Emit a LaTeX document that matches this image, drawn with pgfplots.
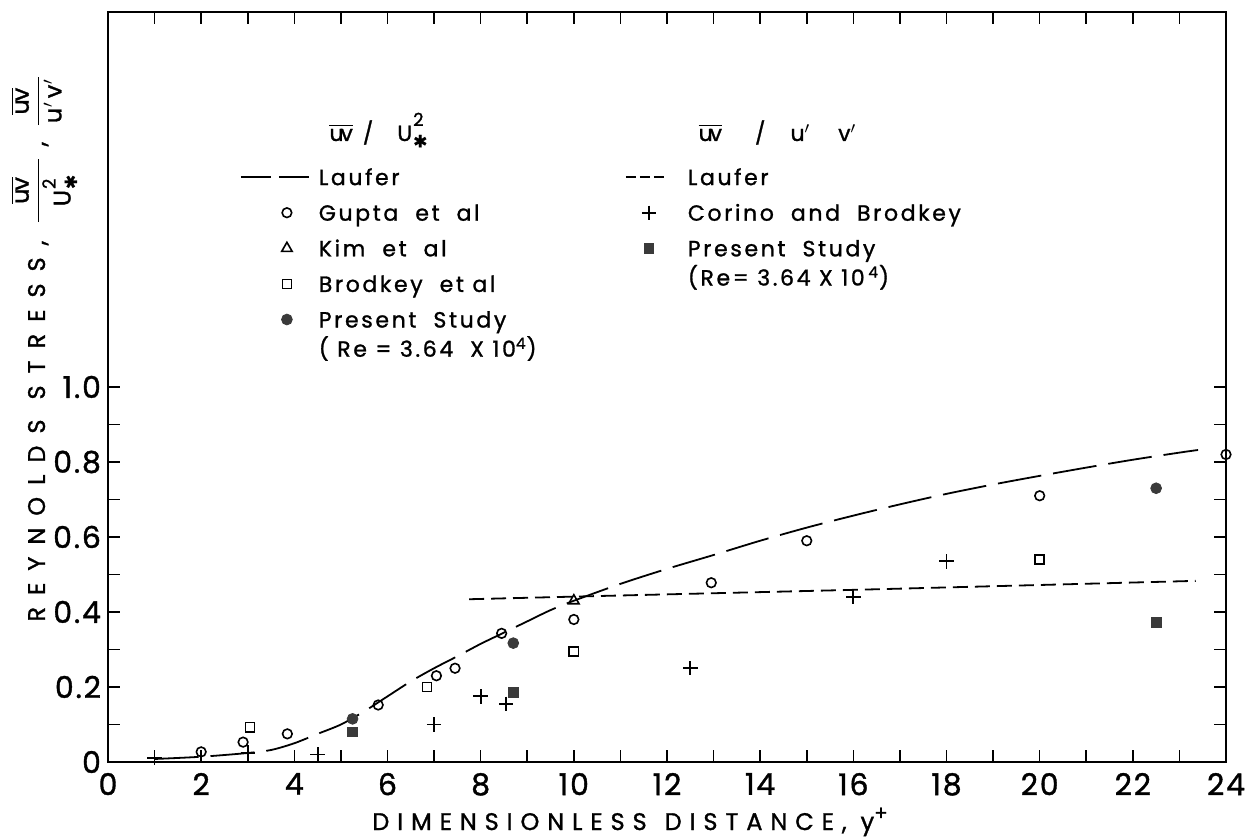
\documentclass[border=0pt]{standalone}
\usepackage{amsmath}
\usepackage{fontspec}
\setmainfont{Poppins}[FakeBold=1.2]
\newfontfamily\lettering{Poppins}[LetterSpace=12, FakeBold=1.2]
\newfontfamily\wideletter{Poppins}[LetterSpace=33, FakeBold=1.2]
\newfontfamily\yletter{Poppins}[LetterSpace=50, FakeBold=1.2]
\newfontfamily\tickfont{Poppins}[LetterSpace=6, FakeBold=1.2]
\newfontfamily\symb{DejaVu Sans}[FakeBold=0.6]
\usepackage{pgfplots}
\pgfplotsset{compat=1.18}

\definecolor{inkfill}{HTML}{3A3A3A}

% U with the 2 above and the star below, stacked
\newcommand{\Ustar}{U\kern0.5pt\rlap{\raisebox{7.5pt}{\fontsize{9}{9}\selectfont 2}}%
  \raisebox{-3.2pt}{\symb\fontsize{8.5}{8.5}\selectfont ✱}}
% barred uv
\newcommand{\uvbar}{$\overline{\text{u\kern-1.5pt v}}$}

% common frame shared by both overlaid axes
\pgfplotsset{
  frame/.style={
    at={(0pt,0pt)}, anchor=south west,
    scale only axis, width=559pt, height=375pt,
    xmin=0, xmax=24, ymin=0, ymax=2,
    clip=false,
  },
  legrow/.style={
    legend style={draw=none, fill=none, inner sep=0pt, outer sep=0pt,
      row sep=7.8pt, font=\lettering\fontsize{11}{13}\selectfont,
      nodes={inner sep=0pt, text height=8pt, text depth=2pt, anchor=base west},
      cells={anchor=base west}},
    legend cell align=left,
  },
  % legend samples, first group: 34pt wide, mark at 23pt
  leftline/.style={legend image code/.code={\path[draw=none] (0pt,0pt) -- (34pt,0pt);
    \draw[##1, dash pattern=on 15pt off 4pt] (0pt,4pt) -- (34pt,4pt);}},
  leftmark/.style={legend image code/.code={\path[draw=none] (0pt,0pt) -- (34pt,0pt);
    \draw[##1] plot coordinates {(23pt,4pt)};}},
  % legend samples, second group: 19pt wide, mark at 11.5pt
  rightline/.style={legend image code/.code={\path[draw=none] (0pt,0pt) -- (19pt,0pt);
    \draw[##1, dash pattern=on 5pt off 2pt] (0pt,4pt) -- (19pt,4pt);}},
  rightmark/.style={legend image code/.code={\path[draw=none] (0pt,0pt) -- (19pt,0pt);
    \draw[##1] plot coordinates {(11.5pt,4pt)};}},
}

\begin{document}
\begin{tikzpicture}
\begin{axis}[frame, legrow,
  axis line style={line width=0.9pt},
  xtick={0,2,...,24}, minor xtick={1,3,...,23},
  ytick={0,0.2,0.4,0.6,0.8,1.0}, yticklabels={0,0.2,0.4,0.6,0.8,1.0},
  minor ytick={0.1,0.3,0.5,0.7,0.9},
  tick align=inside, major tick length=6pt, minor tick length=6pt,
  every tick/.style={line width=0.8pt, black},
  xtick pos=both, ytick pos=both,
  xticklabel pos=lower, yticklabel pos=left,
  /pgf/number format/assume math mode=true,
  ticklabel style={font=\tickfont\fontsize{15}{17}\selectfont},
  xticklabel style={yshift=-2pt},
  xlabel={\wideletter DIMENSIONLESS\hspace{9pt}DISTANCE,\hspace{7pt}y\raisebox{0.75ex}{\fontsize{10}{10}\selectfont +}},
  x label style={at={(axis description cs:0.467,-0.0907)}, anchor=base,
    font=\fontsize{12}{14}\selectfont},
  ylabel={\yletter REYNOLDS\hspace{10pt}STRESS,\hspace{8pt}{\lettering$\dfrac{\overline{\text{u\kern-1pt v}}}{\hspace{8pt}\text{\Ustar}\hspace{8pt}}$\hspace{5pt},\hspace{7pt}$\dfrac{\overline{\text{u\kern-1pt v}}}{\hspace{1pt}\text{u$'$\,v$'$}\hspace{1pt}}$}},
  y label style={at={(axis description cs:-0.0564,0.1867)}, anchor=base west,
    inner sep=0pt, font=\fontsize{12}{14}\selectfont},
  legend style={at={(axis cs:2.834,1.581)}, anchor=north west, column sep=4.5pt},
]
% uv/U*^2 group
\addplot[black, line width=0.9pt, dash pattern=on 22pt off 6pt, smooth, leftline]
  coordinates {
  (1.0,0.008) (2.0,0.014) (3.0,0.024) (3.5,0.032) (4.0,0.050) (4.5,0.075)
  (5.0,0.100) (5.5,0.135) (6.0,0.175) (6.5,0.215) (7.0,0.250) (7.5,0.282)
  (8.0,0.315) (8.5,0.345) (9.0,0.375) (9.5,0.405) (10.0,0.430) (11.0,0.475)
  (12.0,0.515) (13.0,0.552) (14.0,0.590) (15.0,0.625) (16.0,0.657)
  (17.0,0.687) (18.0,0.715) (19.0,0.740) (20.0,0.763) (21.0,0.785)
  (22.0,0.806) (23.0,0.825) (23.4,0.832)};
\addlegendentry{Laufer}
\addplot[only marks, mark=o, mark size=2.4pt, line width=0.8pt, black, leftmark]
  coordinates {
  (2.0,0.027) (2.9,0.053) (3.85,0.075) (5.8,0.152) (7.05,0.230) (7.45,0.250)
  (8.45,0.343) (10.0,0.380) (12.95,0.478) (15.0,0.590) (20.0,0.710) (24.0,0.820)};
\addlegendentry{Gupta\ \ et\ \ al}
\addplot[only marks, mark=triangle, mark size=3pt, line width=0.8pt, black, leftmark]
  coordinates {(10.0,0.430)};
\addlegendentry{Kim\ \ et\ \ al}
\addplot[only marks, mark=square, mark size=2.3pt, line width=0.8pt, black, leftmark]
  coordinates {(3.05,0.093) (6.85,0.200) (10.0,0.295) (20.0,0.540)};
\addlegendentry{Brodkey\ \ et\ al}
\addplot[only marks, mark=*, mark size=2.7pt, black,
  mark options={fill=inkfill, draw=inkfill}, leftmark]
  coordinates {(5.25,0.115) (8.7,0.317) (22.5,0.730)};
\addlegendentry{\parbox[t]{8cm}{Present\ \ Study\\[0.5pt]( Re = 3.64 \ X 10\textsuperscript{4})}}
\node[anchor=base west, font=\lettering\fontsize{11}{13}\selectfont, inner sep=0pt]
  at (axis cs:4.745,1.656) {\uvbar\hspace{5pt}/\hspace{12pt}\Ustar};
\node[anchor=base west, font=\lettering\fontsize{11}{13}\selectfont, inner sep=0pt]
  at (axis cs:12.67,1.656) {\uvbar\hspace{16.5pt}/\hspace{12.5pt}u$'$\hspace{14pt}v$'$};
\end{axis}

% uv/u'v' group, drawn on an identical frame with its own legend
\begin{axis}[frame, legrow, hide axis,
  legend style={at={(axis cs:11.1,1.581)}, anchor=north west, column sep=11.5pt},
]
\addplot[black, line width=0.9pt, dash pattern=on 7.5pt off 3.5pt, rightline]
  coordinates {(7.75,0.434) (10.0,0.441) (13.0,0.450) (16.0,0.459) (20.0,0.472) (23.35,0.483)};
\addlegendentry{Laufer}
\addplot[only marks, mark=+, mark size=3.6pt, line width=0.9pt, black, rightmark]
  coordinates {(1.0,0.010) (3.0,0.025) (4.5,0.020) (7.0,0.100) (8.0,0.175)
  (8.55,0.155) (12.5,0.250) (16.0,0.440) (18.0,0.535)};
\addlegendentry{Corino\ \ and\ \ Brodkey}
\addplot[only marks, mark=square*, mark size=2.4pt, black,
  mark options={fill=inkfill, draw=inkfill}, rightmark]
  coordinates {(5.25,0.080) (8.7,0.185) (22.5,0.373)};
\addlegendentry{\parbox[t]{8cm}{Present\ \ Study\\[0.5pt](Re= 3.64 X 10\,\textsuperscript{4})}}
\end{axis}
\pgfresetboundingbox
\path (-54pt,-38pt) rectangle (571.5pt,381pt);
\end{tikzpicture}
\end{document}
